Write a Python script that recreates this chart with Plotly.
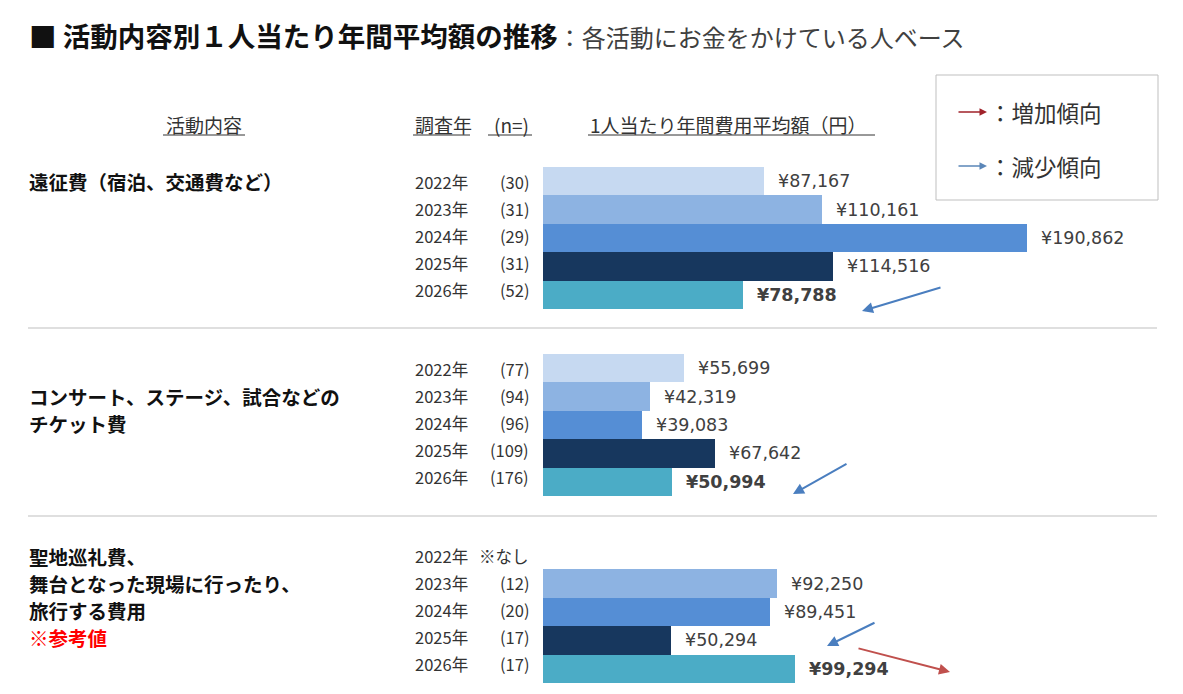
import plotly.graph_objects as go

W, H = 1183, 694

# ---------------- data ----------------
groups = [
    ["遠征費（宿泊、交通費など）"],
    ["コンサート、ステージ、試合などの", "チケット費"],
    ["聖地巡礼費、", "舞台となった現場に行ったり、", "旅行する費用"],
]
years = ["2022年", "2023年", "2024年", "2025年", "2026年"]
n_values = [
    [30, 31, 29, 31, 52],
    [77, 94, 96, 109, 176],
    [None, 12, 20, 17, 17],
]
avg_yen = [
    [87167, 110161, 190862, 114516, 78788],
    [55699, 42319, 39083, 67642, 50994],
    [None, 92250, 89451, 50294, 99294],
]
year_colors = ["#c6d9f1", "#8db3e2", "#558ed5", "#17375e", "#4bacc6"]

# ---------------- layout helpers ----------------
FONT = "Noto Sans CJK JP"
NUMFONT = "DejaVu Sans, Noto Sans CJK JP"
TXT = "#333333"
x0_px = 543                      # pixel where value 0 sits
scale = (1027 - 543) / 190862    # px per yen
group_gap = 187
bar_top0 = 167
bar_pitch = 28.4
label_y0 = 182
label_pitch = 27
group_label_row = [0, 1, 0]


def px(x):
    return x / W


def py(y):
    return 1 - y / H


def bar_center(g, r):
    return bar_top0 + g * group_gap + r * bar_pitch + bar_pitch / 2


def label_center(g, r):
    return label_y0 + g * group_gap + r * label_pitch


fig = go.Figure()

for r, yr in enumerate(years):
    xs, ys = [], []
    for g in range(len(groups)):
        v = avg_yen[g][r]
        if v is None:
            continue
        xs.append(v)
        ys.append(bar_center(g, r))
    fig.add_trace(go.Bar(
        x=xs, y=ys, orientation="h", width=bar_pitch,
        marker=dict(color=year_colors[r], line=dict(width=0)),
        name=yr, showlegend=False, hoverinfo="x",
    ))

ann = []
shapes = []

# title
ann.append(dict(
    x=px(27), y=py(35), xref="paper", yref="paper", xanchor="left", yanchor="middle",
    showarrow=False,
    text="<b>■ 活動内容別１人当たり年間平均額の推移</b>"
         "<span style='font-size:24px;color:#404040;font-weight:normal'>：各活動にお金をかけている人ベース</span>",
    font=dict(family=FONT, size=27.5, color="#111111"),
))

# headers
hdr_font = dict(family=FONT, size=19, color=TXT)
headers = [("活動内容", 204, "center", 163, 245),
           ("調査年", 413, "left", 413, 470),
           ("(n=)", 531, "right", 488, 532),
           ("1人当たり年間費用平均額（円）", 588, "left", 588, 875)]
for t, x, anc, u0, u1 in headers:
    ann.append(dict(x=px(x), y=py(125), xref="paper", yref="paper", xanchor=anc,
                    yanchor="middle", showarrow=False, text=t, font=hdr_font))
    shapes.append(dict(type="line", xref="paper", yref="paper", x0=px(u0), x1=px(u1),
                       y0=py(135), y1=py(135), line=dict(color=TXT, width=1)))

# group labels, year labels, n labels, value labels
for g, lines in enumerate(groups):
    row0 = group_label_row[g]
    for i, line in enumerate(lines):
        ann.append(dict(x=px(27), y=py(label_center(g, row0 + i)), xref="paper", yref="paper",
                        xanchor="left", yanchor="middle", showarrow=False,
                        text=f"<b>{line}</b>", font=dict(family=FONT, size=19.5, color="#111111")))
    if g == 2:
        ann.append(dict(x=px(27), y=py(label_center(g, row0 + len(lines))), xref="paper",
                        yref="paper", xanchor="left", yanchor="middle", showarrow=False,
                        text="<b>※参考値</b>", font=dict(family=FONT, size=19.5, color="#ff0000")))
    for r, yr in enumerate(years):
        yl = py(label_center(g, r))
        ann.append(dict(x=px(413), y=yl, xref="paper", yref="paper", xanchor="left",
                        yanchor="middle", showarrow=False, text=yr,
                        font=dict(family=FONT, size=16.5, color=TXT)))
        n = n_values[g][r]
        ntxt = "※なし" if n is None else f"({n})"
        ann.append(dict(x=px(531), y=yl, xref="paper", yref="paper", xanchor="right",
                        yanchor="middle", showarrow=False, text=ntxt,
                        font=dict(family=FONT, size=16.5, color=TXT)))
        v = avg_yen[g][r]
        if v is not None:
            lab = f"¥{v:,}"
            if r == len(years) - 1:
                lab = f"<b>{lab}</b>"
            ann.append(dict(x=v, y=bar_center(g, r), xref="x", yref="y", xanchor="left",
                            yanchor="middle", xshift=12, showarrow=False, text=lab,
                            font=dict(family=NUMFONT, size=17.5, color="#404040")))

# separators
for ys in (328, 516):
    shapes.append(dict(type="line", xref="paper", yref="paper", x0=px(28), x1=px(1157),
                       y0=py(ys), y1=py(ys), line=dict(color="#bfbfbf", width=1)))

# legend box
shapes.append(dict(type="rect", xref="paper", yref="paper", x0=px(936), x1=px(1158),
                   y0=py(75), y1=py(200), line=dict(color="#bfbfbf", width=1),
                   fillcolor="white"))
for yy, col, t in ((112, "#a0222a", "：増加傾向"), (166, "#5b86b8", "：減少傾向")):
    ann.append(dict(x=px(987), y=py(yy), ax=-30, ay=0, xref="paper", yref="paper",
                    axref="pixel", ayref="pixel", showarrow=True, arrowhead=2,
                    arrowsize=1, arrowwidth=1.5, arrowcolor=col, text=""))
    ann.append(dict(x=px(987), y=py(yy), xref="paper", yref="paper", xanchor="left",
                    yanchor="middle", showarrow=False, text=t,
                    font=dict(family=FONT, size=22.5, color=TXT)))

# trend arrows
BLUE, RED = "#4a7ebf", "#c0504d"
trend = [((862, 311), (942, 287), BLUE), ((793, 494), (848, 463), BLUE),
         ((827, 646), (876, 622), BLUE), ((950, 672), (857, 648), RED)]
for (hx, hy), (tx, ty), col in trend:
    ann.append(dict(x=px(hx), y=py(hy), ax=tx - hx, ay=ty - hy, xref="paper", yref="paper",
                    axref="pixel", ayref="pixel", showarrow=True, arrowhead=2,
                    arrowsize=1.1, arrowwidth=2, arrowcolor=col, text=""))

fig.update_layout(
    width=W, height=H, margin=dict(l=0, r=0, t=0, b=0),
    paper_bgcolor="white", plot_bgcolor="white",
    xaxis=dict(domain=[px(x0_px), 1], range=[0, (W - x0_px) / scale], visible=False,
               fixedrange=True),
    yaxis=dict(domain=[0, 1], range=[H, 0], visible=False, fixedrange=True),
    annotations=ann, shapes=shapes, bargap=0,
    font=dict(family=FONT),
)

fig.write_html("out.html", config={"displayModeBar": False})
